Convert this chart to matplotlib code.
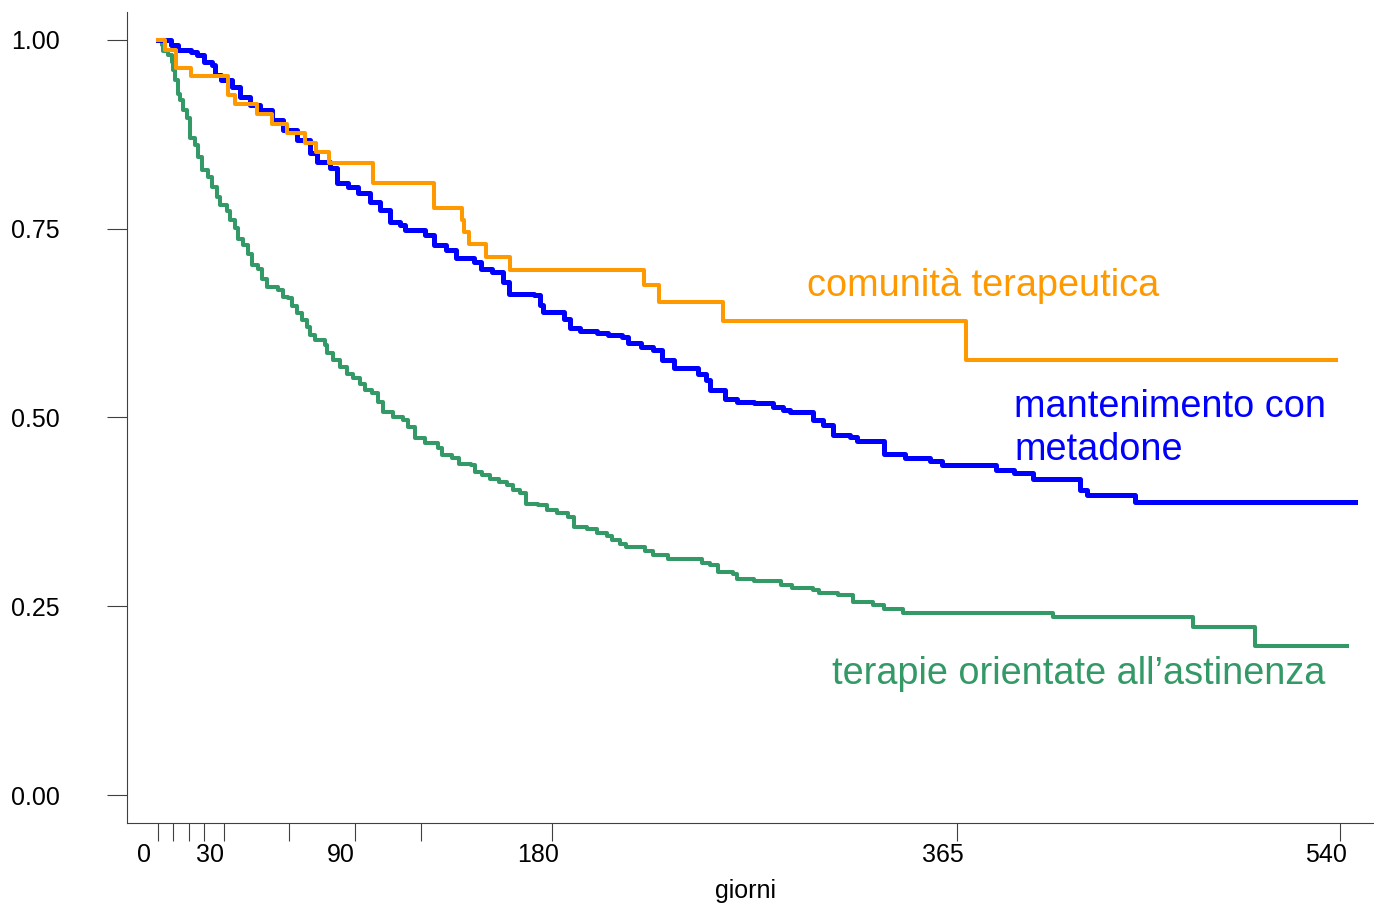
import numpy as np
import matplotlib
matplotlib.use('Agg')
from matplotlib import pyplot as plt
from matplotlib.transforms import ScaledTranslation

plt.rcParams['font.family'] = ['Liberation Sans', 'DejaVu Sans']

## Kaplan-Meier curves (days, survival) ##
t_ct = [0, 3, 8, 15, 32, 35, 45, 52, 59, 67, 72, 78, 98, 126, 139, 140, 142, 150, 161,
        222, 229, 258, 369, 538]
s_ct = [1.0, 0.987, 0.963, 0.952, 0.927, 0.915, 0.902, 0.889, 0.877, 0.863, 0.851, 0.837,
        0.810, 0.778, 0.762, 0.746, 0.730, 0.713, 0.695, 0.675, 0.653, 0.628, 0.576, 0.576]

t_mm = [0, 6, 9, 15, 18, 21, 24.5, 26, 29, 34, 37.5, 42, 46.6, 52, 57.3, 63.4, 69.4, 72.5,
        78.6, 81.6, 87, 91.5, 96.8, 101.4, 106, 110.5, 112.8, 122, 126, 131.5, 136, 144.5,
        147.5, 152.5, 157.7, 160.4, 171.8, 174.4, 176.1, 185.7, 188.3, 192.7, 200.6, 205.8,
        212, 214.6, 220.7, 226, 230.3, 235.5, 246.9, 250.4, 252.2, 259.2, 264.4, 272.3, 281,
        285.4, 288.9, 299, 303.7, 308.2, 316, 319.3, 331.7, 341.2, 352.7, 358.3, 382.6,
        391.2, 399.6, 421.3, 424.6, 446.4, 547]
s_mm = [1.0, 0.993, 0.987, 0.984, 0.980, 0.971, 0.967, 0.954, 0.947, 0.938, 0.925, 0.914,
        0.907, 0.894, 0.881, 0.868, 0.850, 0.839, 0.830, 0.810, 0.805, 0.797, 0.786, 0.775,
        0.759, 0.755, 0.748, 0.742, 0.728, 0.722, 0.711, 0.706, 0.697, 0.693, 0.680, 0.664,
        0.662, 0.649, 0.640, 0.631, 0.618, 0.614, 0.612, 0.609, 0.607, 0.598, 0.594, 0.589,
        0.576, 0.565, 0.558, 0.550, 0.536, 0.525, 0.521, 0.519, 0.514, 0.510, 0.507, 0.497,
        0.490, 0.477, 0.474, 0.469, 0.452, 0.447, 0.443, 0.437, 0.431, 0.426, 0.418, 0.404,
        0.397, 0.388, 0.388]

t_ab = [0, 1.7, 2.4, 4.7, 6.3, 7, 7.8, 9.3, 10, 11.6, 13.1, 14.6, 16.9, 18.4, 20, 23, 24.5,
        26.8, 28.3, 31.4, 32.9, 35.2, 36.7, 39, 41.3, 42.8, 45.8, 47.4, 49.7, 55, 57.2, 59.5,
        61.1, 63.4, 65.6, 67.9, 69.4, 71.7, 76.3, 77.1, 80.1, 83.1, 86.2, 89.2, 92.3, 94.6,
        97.6, 100.6, 102.9, 107.5, 112, 114.3, 117.4, 122, 128, 129.8, 134.2, 137.6, 142.9,
        144.6, 148.2, 151.6, 156, 159.5, 162.1, 165.6, 168.3, 173.5, 177.9, 182.2, 187.5,
        190.1, 196.2, 200.6, 205, 207.6, 211.1, 213.7, 222.4, 226, 233, 248.7, 252.2, 255.6,
        262.7, 264.4, 272.3, 284.5, 289.8, 299.4, 302, 310.7, 317.7, 326.5, 331.7, 340.4,
        409, 473, 501, 543]
s_ab = [1.0, 0.993, 0.985, 0.980, 0.971, 0.960, 0.947, 0.929, 0.921, 0.907, 0.896, 0.870,
        0.861, 0.845, 0.828, 0.819, 0.805, 0.792, 0.781, 0.773, 0.762, 0.751, 0.737, 0.728,
        0.717, 0.702, 0.697, 0.684, 0.673, 0.669, 0.660, 0.658, 0.647, 0.638, 0.629, 0.620,
        0.609, 0.603, 0.596, 0.585, 0.576, 0.567, 0.558, 0.552, 0.545, 0.536, 0.532, 0.521,
        0.507, 0.501, 0.497, 0.488, 0.473, 0.466, 0.459, 0.450, 0.447, 0.439, 0.437, 0.428,
        0.424, 0.419, 0.415, 0.411, 0.404, 0.400, 0.386, 0.384, 0.377, 0.373, 0.368, 0.355,
        0.352, 0.347, 0.343, 0.338, 0.332, 0.329, 0.323, 0.318, 0.313, 0.307, 0.305, 0.296,
        0.293, 0.286, 0.283, 0.278, 0.274, 0.272, 0.267, 0.265, 0.256, 0.252, 0.246, 0.241,
        0.236, 0.223, 0.197, 0.197]

xticks = [0, 7, 14, 21, 30, 60, 90, 120, 180, 365, 540]
xlabels = ['0', '', '', '', '30', '', '90', '', '180', '365', '540']
yticks = [0, 0.25, 0.5, 0.75, 1.0]

c_ct = '#FF9900'
c_mm = '#0000FF'
c_ab = '#339966'

fig = plt.figure(figsize=(13.74, 9.05), dpi=100)
ax = fig.add_axes([127/1374, 82/905, 1 - 127/1374, 811/905])

ax.step(t_ab, s_ab, where='post', color=c_ab, lw=2.9)
ax.step(t_mm, s_mm, where='post', color=c_mm, lw=3.6)
ax.step(t_ct, s_ct, where='post', color=c_ct, lw=2.9)

ax.set_xlim(-14.16, 555.5)
ax.set_ylim(-0.037, 1.037)

for sp in ['top', 'right']:
    ax.spines[sp].set_visible(False)
for sp in ['left', 'bottom']:
    ax.spines[sp].set_color('#404040')
    ax.spines[sp].set_linewidth(0.8)

ax.set_xticks(xticks)
ax.set_xticklabels(xlabels)
ax.set_yticks(yticks)
ax.set_yticklabels(['%.2f' % v for v in yticks])
ax.tick_params(axis='x', length=13, width=0.8, color='#404040', pad=1.5, labelsize=18)
ax.tick_params(axis='y', length=14.4, width=0.8, color='#404040', pad=33.8, labelsize=18)

# tick labels sit a bit left of their ticks
shift = ScaledTranslation(-14/100, 0, fig.dpi_scale_trans)
for lab in ax.get_xticklabels():
    lab.set_transform(lab.get_transform() + shift)

ax.text(0.496, -0.0838, 'giorni', transform=ax.transAxes, ha='center', va='center', fontsize=18)

ax.text(296.5, 0.661, 'comunità terapeutica', color=c_ct, fontsize=27.3, va='baseline')
ax.text(391.2, 0.501, 'mantenimento con', color=c_mm, fontsize=27.3, va='baseline')
ax.text(391.2, 0.444, 'metadone', color=c_mm, fontsize=27.3, va='baseline')
ax.text(307.9, 0.147, 'terapie orientate all\u2019astinenza', color=c_ab, fontsize=27.3, va='baseline')

fig.savefig('out.png', dpi=100)
